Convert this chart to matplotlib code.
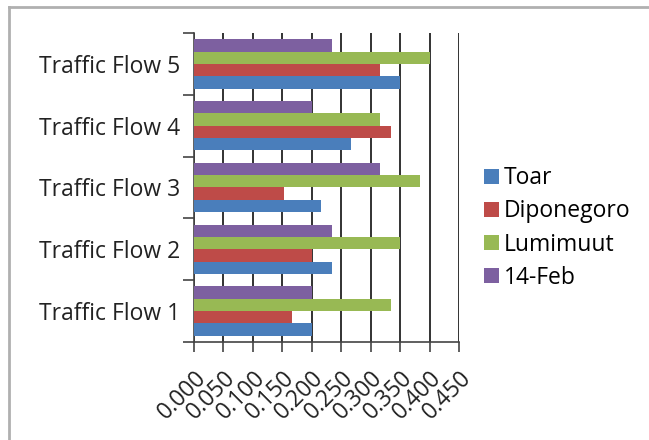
import numpy as np
import matplotlib.pyplot as plt
from matplotlib.lines import Line2D

plt.rcParams["font.family"] = ["Open Sans", "DejaVu Sans"]

categories = ["Traffic Flow 1", "Traffic Flow 2", "Traffic Flow 3", "Traffic Flow 4", "Traffic Flow 5"]
series = ["Toar", "Diponegoro", "Lumimuut", "14-Feb"]
toar = [0.200, 0.234, 0.216, 0.266, 0.350]
diponegoro = [0.167, 0.200, 0.152, 0.334, 0.316]
lumimuut = [0.334, 0.350, 0.384, 0.316, 0.400]
feb14 = [0.200, 0.234, 0.316, 0.201, 0.234]
xticks = [0.0, 0.05, 0.10, 0.15, 0.20, 0.25, 0.30, 0.35, 0.40, 0.45]

colors = ["#4a7ebb", "#be4b48", "#98b954", "#7d60a0"]
values = [toar, diponegoro, lumimuut, feb14]
fs = 16.5

fig = plt.figure(figsize=(6.49, 4.40), dpi=100)
ax = fig.add_axes([194 / 649, 1 - 342 / 440, 265 / 649, 309 / 440])

y = np.arange(len(categories))
h = 0.2
for i, (name, vals, c) in enumerate(zip(series, values, colors)):
    ax.barh(y + (i - 1.5) * h, vals, height=h, color=c, label=name, zorder=3)

ax.set_xlim(0, 0.45)
ax.set_ylim(-0.5, len(categories) - 0.5)
ax.set_xticks(xticks)
ax.set_xticklabels([f"{t:.3f}" for t in xticks], rotation=45, ha="right",
                   rotation_mode="anchor", fontsize=fs, color="#222222")
ax.set_yticks(y)
ax.set_yticklabels(categories, fontsize=fs, color="#222222")
ax.set_yticks(np.arange(len(categories) + 1) - 0.5, minor=True)
ax.tick_params(axis="y", which="major", length=0, pad=10)
ax.tick_params(axis="y", which="minor", length=8, width=1.2, color="#444444")
ax.tick_params(axis="x", which="major", length=7, width=1.2, color="#444444",
               direction="out", pad=10)

ax.grid(axis="x", color="#222222", linewidth=1.3, zorder=1)
for s in ["top", "right"]:
    ax.spines[s].set_visible(False)
ax.spines["left"].set_color("#444444")
ax.spines["bottom"].set_color("#444444")
ax.spines["left"].set_linewidth(1.2)
ax.spines["bottom"].set_linewidth(1.2)

handles, labels = ax.get_legend_handles_labels()
fig.legend(handles, labels, loc="center left", bbox_to_anchor=(484 / 649, 1 - 228 / 440),
           frameon=False, fontsize=fs, handlelength=0.65, handleheight=0.65,
           handletextpad=0.2, labelspacing=0.4, borderpad=0, borderaxespad=0)

# partial outer border like the screenshot
fig.add_artist(Line2D([9 / 649, 9 / 649], [0, 1 - 7 / 440], transform=fig.transFigure,
                      color="#b0b0b0", linewidth=2))
fig.add_artist(Line2D([9 / 649, 1], [1 - 7 / 440, 1 - 7 / 440], transform=fig.transFigure,
                      color="#b0b0b0", linewidth=2))

fig.savefig("out.png", dpi=100)
plt.close(fig)
